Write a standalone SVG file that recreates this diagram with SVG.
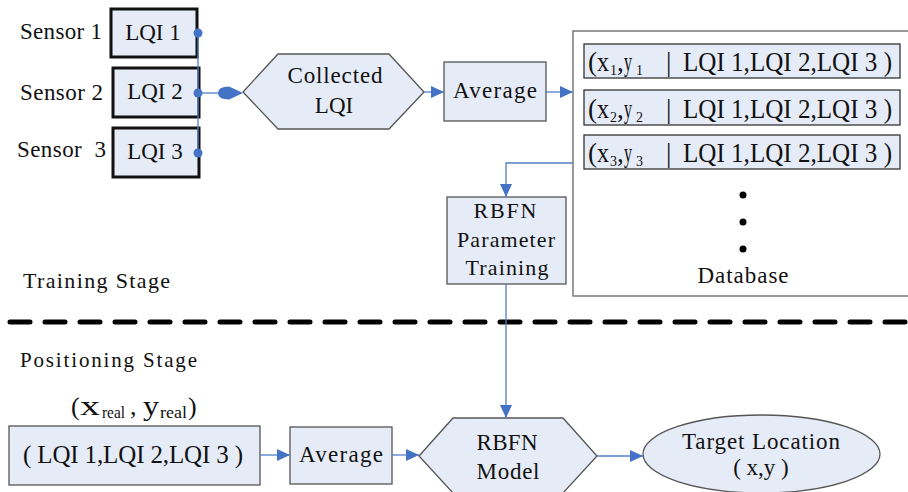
<svg xmlns="http://www.w3.org/2000/svg" width="908" height="492" viewBox="0 0 908 492" font-family="'Liberation Serif', 'DejaVu Serif', serif">
  <style>
    text { font-family: "Liberation Serif", "DejaVu Serif", serif; fill: #111; }
    .lbl { font-size: 23px; }
    .mid { text-anchor: middle; }
    .sensor { font-size: 23px; white-space: pre; }
    .box { fill: #e6ecf7; stroke: #555; stroke-width: 1.3; }
    .sbox { fill: #e6ecf7; stroke: #111; stroke-width: 3; }
    .row { fill: #e6ecf7; stroke: #333; stroke-width: 1.3; }
    .rowtxt { font-size: 27px; }
    .sub { font-size: 14px; }
    .conn { fill: none; stroke: #4f7fc8; stroke-width: 1.3; }
    .dot { fill: #4472c4; }
  </style>
  <defs>
    <marker id="arrow" markerUnits="userSpaceOnUse" markerWidth="14" markerHeight="13" refX="13" refY="6" orient="auto">
      <path d="M0,0 L13,6 L0,12 Z" fill="#4472c4"/>
    </marker>
  </defs>

  <!-- Stage separator -->
  <path d="M10,322 H908" stroke="#000" stroke-width="5" stroke-dasharray="20 15" stroke-linecap="round" fill="none"/>
  <text class="lbl" x="23" y="288" textLength="147" lengthAdjust="spacing" style="font-size:22px">Training Stage</text>
  <text class="lbl" x="20" y="367" textLength="177" lengthAdjust="spacing" style="font-size:21px">Positioning Stage</text>

  <!-- Sensors -->
  <g id="sensor1">
    <text class="sensor" x="20" y="39" textLength="82" lengthAdjust="spacing">Sensor 1</text>
    <rect class="sbox" x="111" y="9" width="86" height="48"/>
    <text class="lbl mid" x="153" y="40">LQI 1</text>
  </g>
  <g id="sensor2">
    <text class="sensor" x="20" y="100" textLength="83" lengthAdjust="spacing">Sensor 2</text>
    <rect class="sbox" x="113" y="68" width="86" height="49"/>
    <text class="lbl mid" x="155" y="99">LQI 2</text>
  </g>
  <g id="sensor3">
    <text class="sensor" x="17" y="157" textLength="89" lengthAdjust="spacing">Sensor  3</text>
    <rect class="sbox" x="113" y="128" width="86" height="49"/>
    <text class="lbl mid" x="155" y="159">LQI 3</text>
  </g>

  <!-- Training flow -->
  <g id="collected">
    <polygon class="box" points="243,92 278,54 389,54 424,92 389,129 278,129"/>
    <text class="lbl mid" x="335" y="83" textLength="95" lengthAdjust="spacing">Collected</text>
    <text class="lbl mid" x="334" y="113">LQI</text>
  </g>
  <g id="average1">
    <rect class="box" x="444" y="62" width="102" height="59"/>
    <text class="lbl mid" x="495" y="98" textLength="84" lengthAdjust="spacing">Average</text>
  </g>

  <g id="database">
    <rect x="573" y="31" width="345" height="265" fill="#fff" stroke="#666" stroke-width="1.3"/>
    <rect class="row" x="584" y="44" width="316" height="34"/>
    <text class="rowtxt" y="71"><tspan x="588">(</tspan><tspan x="597" textLength="12" lengthAdjust="spacingAndGlyphs">x</tspan><tspan class="sub" x="610" y="75">1</tspan><tspan x="617" y="71">,</tspan><tspan x="624" textLength="8" lengthAdjust="spacingAndGlyphs">y</tspan><tspan class="sub" x="636" y="75">1</tspan><tspan x="666" y="71">|</tspan><tspan x="683" textLength="209" lengthAdjust="spacingAndGlyphs">LQI 1,LQI 2,LQI 3 )</tspan></text>
    <rect class="row" x="584" y="90" width="316" height="35"/>
    <text class="rowtxt" y="118"><tspan x="588">(</tspan><tspan x="597" textLength="12" lengthAdjust="spacingAndGlyphs">x</tspan><tspan class="sub" x="610" y="122">2</tspan><tspan x="617" y="118">,</tspan><tspan x="624" textLength="8" lengthAdjust="spacingAndGlyphs">y</tspan><tspan class="sub" x="636" y="122">2</tspan><tspan x="666" y="118">|</tspan><tspan x="683" textLength="209" lengthAdjust="spacingAndGlyphs">LQI 1,LQI 2,LQI 3 )</tspan></text>
    <rect class="row" x="584" y="135" width="316" height="34"/>
    <text class="rowtxt" y="162"><tspan x="588">(</tspan><tspan x="597" textLength="12" lengthAdjust="spacingAndGlyphs">x</tspan><tspan class="sub" x="610" y="166">3</tspan><tspan x="617" y="162">,</tspan><tspan x="624" textLength="8" lengthAdjust="spacingAndGlyphs">y</tspan><tspan class="sub" x="636" y="166">3</tspan><tspan x="666" y="162">|</tspan><tspan x="683" textLength="209" lengthAdjust="spacingAndGlyphs">LQI 1,LQI 2,LQI 3 )</tspan></text>
    <circle cx="743" cy="195" r="3.5" fill="#000"/>
    <circle cx="743" cy="222" r="3.5" fill="#000"/>
    <circle cx="743" cy="249" r="3.5" fill="#000"/>
    <text class="lbl mid" x="743" y="283" textLength="91" lengthAdjust="spacing">Database</text>
  </g>

  <g id="rbfn-training">
    <rect class="box" x="447" y="197" width="119" height="87"/>
    <text class="lbl mid" x="505" y="218" textLength="63" lengthAdjust="spacing" style="font-size:22px">RBFN</text>
    <text class="lbl mid" x="506" y="247" textLength="98" lengthAdjust="spacing" style="font-size:22px">Parameter</text>
    <text class="lbl mid" x="507" y="275" textLength="83" lengthAdjust="spacing" style="font-size:22px">Training</text>
  </g>

  <!-- Positioning flow -->
  <g id="real-position">
    <text style="font-size:26px" y="415"><tspan x="71">(</tspan><tspan x="80" textLength="20" lengthAdjust="spacingAndGlyphs" style="font-size:28px">x</tspan><tspan x="102" y="418" style="font-size:17px" textLength="23" lengthAdjust="spacingAndGlyphs">real</tspan><tspan x="130" y="415">,</tspan><tspan x="143" textLength="16" lengthAdjust="spacingAndGlyphs" style="font-size:28px">y</tspan><tspan x="160" y="418" style="font-size:17px" textLength="27" lengthAdjust="spacingAndGlyphs">real</tspan><tspan x="188" y="415">)</tspan></text>
  </g>
  <g id="lqi-input">
    <rect class="box" x="9" y="426" width="251" height="59"/>
    <text class="mid" x="133" y="463" style="font-size:25px" textLength="220" lengthAdjust="spacing">( LQI 1,LQI 2,LQI 3 )</text>
  </g>
  <g id="average2">
    <rect class="box" x="290" y="427" width="102" height="57"/>
    <text class="lbl mid" x="341" y="462" textLength="84" lengthAdjust="spacing">Average</text>
  </g>
  <g id="rbfn-model">
    <polygon class="box" points="419,456 453,418 563,418 597,456 563,493 453,493"/>
    <text class="lbl mid" x="507" y="450" textLength="61" lengthAdjust="spacing">RBFN</text>
    <text class="lbl mid" x="508" y="479" textLength="63" lengthAdjust="spacing">Model</text>
  </g>
  <g id="target-location">
    <ellipse class="box" cx="761.5" cy="454" rx="118.5" ry="39"/>
    <text class="lbl mid" x="761" y="449" textLength="158" lengthAdjust="spacing">Target Location</text>
    <text class="lbl mid" x="761" y="475">( x,y )</text>
  </g>

  <!-- Connectors -->
  <g id="connectors">
    <path class="conn" d="M198,33 V153"/>
    <circle class="dot" cx="198" cy="33" r="4.5"/>
    <circle class="dot" cx="198" cy="93" r="4.5"/>
    <circle class="dot" cx="198" cy="153" r="4.5"/>
    <path class="conn" d="M198,93 H222"/>
    <path d="M243,93 L229,86.5 Q218,86.5 218,93 Q218,99.5 229,99.5 Z" fill="#4472c4"/>
    <path class="conn" d="M424,92 H444" marker-end="url(#arrow)"/>
    <path class="conn" d="M546,92 H573" marker-end="url(#arrow)"/>
    <path class="conn" d="M573,163 H506 V197" marker-end="url(#arrow)"/>
    <path class="conn" d="M506,284 V418" marker-end="url(#arrow)"/>
    <path class="conn" d="M260,455 H290" marker-end="url(#arrow)"/>
    <path class="conn" d="M392,455 H419" marker-end="url(#arrow)"/>
    <path class="conn" d="M597,456 H643" marker-end="url(#arrow)"/>
  </g>
</svg>
